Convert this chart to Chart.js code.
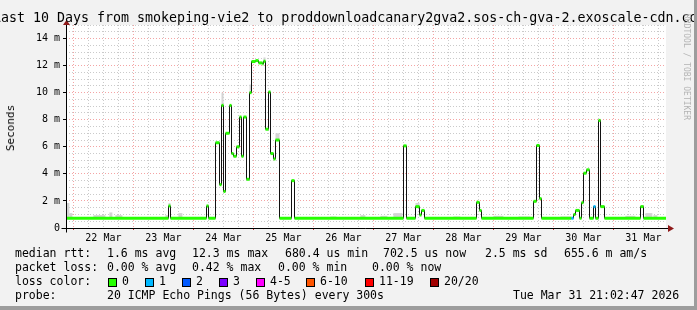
<!DOCTYPE html>
<html>
<head>
<meta charset="utf-8">
<script src="https://cdn.jsdelivr.net/npm/chart.js@4/dist/chart.umd.min.js"></script>
<style>
  html, body { margin: 0; padding: 0; }
  body { width: 697px; height: 310px; overflow: hidden; }
  #frame {
    position: relative; width: 697px; height: 310px; box-sizing: border-box;
    background: #f2f2f2; border-right: 3px solid #9d9d9d; border-bottom: 4px solid #9d9d9d;
    font-family: 'DejaVu Sans Mono', monospace; color: #000; overflow: hidden;
  }
  canvas { position: absolute; left: 0; top: 0; }
  .t { position: absolute; white-space: pre; font-size: 11.5px; line-height: 14px; }
  .sq { position: absolute; top: 278px; width: 7px; height: 7px; border: 1px solid #000; }
</style>
</head>
<body>
<div id="frame">
  <canvas id="chart" width="697" height="310"></canvas>

  <div class="t" style="left:-7px;top:10px;font-size:13.3px;line-height:16px">Last 10 Days from smokeping-vie2 to proddownloadcanary2gva2.sos-ch-gva-2.exoscale-cdn.com</div>
  <div class="t" style="left:11px;top:128px;font-size:11px;transform:translate(-50%,-50%) rotate(-90deg)">Seconds</div>
  <div class="t" style="left:681px;top:14px;font-size:8px;line-height:10px;color:#b4b4b4;writing-mode:vertical-rl">RRDTOOL / TOBI OETIKER</div>

  <div class="t" style="left:15px;top:246px">median rtt:</div>
  <div class="t" style="left:107px;top:246px">1.6 ms avg</div>
  <div class="t" style="left:192px;top:246px">12.3 ms max</div>
  <div class="t" style="left:285px;top:246px">680.4 us min</div>
  <div class="t" style="left:383px;top:246px">702.5 us now</div>
  <div class="t" style="left:485px;top:246px">2.5 ms sd</div>
  <div class="t" style="left:564px;top:246px">655.6 m am/s</div>

  <div class="t" style="left:15px;top:260px">packet loss:</div>
  <div class="t" style="left:107px;top:260px">0.00 % avg</div>
  <div class="t" style="left:192px;top:260px">0.42 % max</div>
  <div class="t" style="left:278px;top:260px">0.00 % min</div>
  <div class="t" style="left:372px;top:260px">0.00 % now</div>

  <div class="t" style="left:15px;top:274px">loss color:</div>
  <div id="lossLegend"></div>

  <div class="t" style="left:15px;top:288px">probe:</div>
  <div class="t" style="left:107px;top:288px">20 ICMP Echo Pings (56 Bytes) every 300s</div>
  <div class="t" style="left:513px;top:288px">Tue Mar 31 21:02:47 2026</div>
</div>
<script>
// time axis: hours since 22 Mar 00:00, one pixel column = 24 min
const startHour = -2.95;
const endHour = 237.05;
const dayLabels = ['22 Mar', '23 Mar', '24 Mar', '25 Mar', '26 Mar', '27 Mar', '28 Mar', '29 Mar', '30 Mar', '31 Mar'];
const yLabels = ['0', '2 m', '4 m', '6 m', '8 m', '10 m', '12 m', '14 m'];

// median rtt, step segments (start hour, ms, loss class)
const medStart = [-2.95, 38.05, 38.85, 53.25, 54.05, 56.85, 58.45, 59.25, 60.05, 60.85,
  62.45, 63.25, 64.05, 65.25, 66.45, 67.25, 68.05, 69.25, 70.45, 71.25,
  72.85, 74.05, 75.65, 76.05, 76.85, 78.05, 78.85, 80.05, 80.85, 82.45,
  87.25, 88.45, 132.05, 133.25, 136.85, 138.45, 139.25, 140.45, 161.25, 162.45,
  163.25, 184.05, 185.25, 186.45, 187.25, 199.25, 200.05, 200.85, 202.45, 203.25,
  204.05, 205.25, 206.45, 208.05, 208.85, 210.05, 210.85, 212.45, 226.85, 228.05];
const medValue = [0.72, 1.63, 0.72, 1.63, 0.72, 6.3, 3.2, 9.06, 2.7, 7.0,
  9.06, 5.5, 5.3, 6.0, 8.2, 5.3, 8.2, 3.6, 10.0, 12.3,
  12.37, 12.2, 12.12, 12.32, 7.3, 10.05, 5.5, 5.1, 6.5, 0.72,
  3.5, 0.72, 6.07, 0.72, 1.58, 0.96, 1.3, 0.72, 1.9, 1.3,
  0.72, 1.97, 6.1, 2.17, 0.72, 0.72, 1.0, 1.3, 0.72, 1.87,
  4.05, 4.3, 0.72, 1.58, 0.72, 7.95, 1.58, 0.72, 1.58, 0.72];
const medLoss = [0, 0, 0, 0, 0, 0, 0, 0, 0, 0,
  0, 0, 0, 0, 0, 0, 0, 0, 0, 0,
  0, 0, 0, 0, 0, 0, 0, 0, 0, 0,
  0, 0, 0, 0, 0, 0, 0, 0, 0, 0,
  0, 0, 0, 0, 0, 1, 0, 0, 0, 0,
  0, 0, 0, 1, 0, 0, 0, 0, 0, 0];

// smoke (spread of the 20 pings): from hour, to hour, top in ms
const smokeFrom = [-2.95, -1.6, 8.0, 14.4, 16.8, 36.8, 38.05, 42.0, 59.25, 70.45, 76.05, 80.85,
  102.8, 114.8, 122.8, 128.0, 136.85, 152.0, 168.0, 178.0, 194.8, 220.8, 228.8, 232.0];
const smokeTo = [-1.6, -0.4, 12.8, 15.6, 19.6, 38.05, 38.85, 43.6, 60.05, 71.25, 76.85, 82.45,
  105.2, 116.8, 125.6, 131.6, 138.45, 154.8, 172.0, 182.8, 199.25, 224.8, 231.6, 233.6];
const smokeTop = [1.85, 1.1, 0.95, 1.15, 0.95, 0.95, 1.85, 1.1, 10.0, 10.6, 12.6, 7.0,
  0.85, 0.95, 0.9, 1.1, 1.85, 0.85, 0.9, 0.85, 0.85, 0.9, 1.1, 0.95];

const lossNames = ['0', '1', '2', '3', '4-5', '6-10', '11-19', '20/20'];
const lossColors = ['#26ff00', '#00b8ff', '#0059ff', '#7a00ff', '#ff00ff', '#ff5500', '#ff0000', '#a10000'];

// legend squares
const sqLeft = [108, 145, 182, 219, 256, 306, 365, 430];
const lbLeft = [122, 159, 196, 233, 270, 320, 379, 444];
const lossLegend = document.getElementById('lossLegend');
lossNames.forEach((name, i) => {
  const sq = document.createElement('div');
  sq.className = 'sq';
  sq.style.left = sqLeft[i] + 'px';
  sq.style.background = lossColors[i];
  lossLegend.appendChild(sq);
  const lb = document.createElement('div');
  lb.className = 't';
  lb.style.left = lbLeft[i] + 'px';
  lb.style.top = '274px';
  lb.textContent = name;
  lossLegend.appendChild(lb);
});

function medAt(h) {
  let i = 0;
  while (i + 1 < medStart.length && medStart[i + 1] <= h) i++;
  return medValue[i];
}
function smokeAt(h) {
  for (let i = 0; i < smokeFrom.length; i++) {
    if (h >= smokeFrom[i] && h < smokeTo[i]) return smokeTop[i];
  }
  return 0;
}

const breaks = [...new Set([...medStart, ...smokeFrom, ...smokeTo, endHour])].sort((a, b) => a - b);
const medianPts = medStart.map((h, i) => ({ x: h, y: medValue[i] }));
medianPts.push({ x: endHour, y: medValue[medValue.length - 1] });

// loss coloured bands: only the flat parts of the median
const bandPts = [];
const bandLoss = [];
medStart.forEach((h0, i) => {
  const h1 = i + 1 < medStart.length ? medStart[i + 1] : endHour;
  bandPts.push({ x: h0, y: medValue[i] }, { x: h1, y: medValue[i] }, { x: h1, y: null });
  bandLoss.push(medLoss[i], medLoss[i], medLoss[i]);
});

const xTickHours = [];
dayLabels.forEach((d, i) => { for (let q = 0; q < 4; q++) xTickHours.push(i * 24 + q * 6); });
const yTickValues = [];
for (let v = 0; v <= 15; v += 0.5) yTickValues.push(v);

const majorGrid = 'rgba(235,90,90,0.55)';
const minorGrid = 'rgba(150,150,150,0.5)';

const frame = {
  id: 'frame',
  beforeDraw(chart) {
    const { ctx, chartArea: a } = chart;
    ctx.save();
    ctx.fillStyle = '#ffffff';
    ctx.fillRect(a.left, a.top, a.right - a.left, a.bottom - a.top);
    ctx.restore();
  },
  beforeDatasetsDraw(chart) {
    // smoke between median and the slowest pings
    const { ctx, scales: { x, y } } = chart;
    ctx.save();
    ctx.fillStyle = '#d4d4d4';
    for (let k = 0; k + 1 < breaks.length; k++) {
      const lo = medAt(breaks[k]);
      const hi = smokeAt(breaks[k]);
      if (hi <= lo) continue;
      const x0 = x.getPixelForValue(breaks[k]);
      const x1 = x.getPixelForValue(breaks[k + 1]);
      const y0 = y.getPixelForValue(lo);
      const y1 = y.getPixelForValue(hi);
      ctx.fillRect(x0, y1, x1 - x0, y0 - y1);
    }
    ctx.restore();
  },
  afterDatasetsDraw(chart) {
    const { ctx, chartArea: a } = chart;
    const y0 = Math.round(a.bottom) + 0.5;
    const x0 = Math.round(a.left) + 0.5;
    ctx.save();
    ctx.strokeStyle = '#000';
    ctx.lineWidth = 1;
    ctx.beginPath();
    ctx.moveTo(x0 - 5, y0); ctx.lineTo(a.right + 3, y0);
    ctx.moveTo(x0, y0 + 4); ctx.lineTo(x0, a.top - 1);
    ctx.stroke();
    ctx.fillStyle = '#8e1a1a';
    ctx.beginPath();
    ctx.moveTo(a.right + 2, y0 - 3.5); ctx.lineTo(a.right + 8, y0); ctx.lineTo(a.right + 2, y0 + 3.5);
    ctx.closePath(); ctx.fill();
    ctx.beginPath();
    ctx.moveTo(x0 - 3.5, a.top); ctx.lineTo(x0, a.top - 5); ctx.lineTo(x0 + 3.5, a.top);
    ctx.closePath(); ctx.fill();
    ctx.restore();
  }
};

new Chart(document.getElementById('chart'), {
  type: 'line',
  data: {
    datasets: [
      {
        label: 'median',
        data: medianPts,
        stepped: 'before',
        borderWidth: 1,
        borderColor: '#111111',
        fill: false,
        order: 2
      },
      {
        label: 'loss',
        data: bandPts,
        borderWidth: 3,
        borderCapStyle: 'butt',
        spanGaps: false,
        fill: false,
        borderColor: lossColors[0],
        segment: { borderColor: c => lossColors[bandLoss[c.p0DataIndex]] },
        order: 1
      }
    ]
  },
  options: {
    responsive: false,
    animation: false,
    devicePixelRatio: 1,
    layout: { padding: { left: 0, top: 25, right: 31, bottom: 62 } },
    elements: { point: { radius: 0, hoverRadius: 0 }, line: { tension: 0 } },
    plugins: { legend: { display: false }, tooltip: { enabled: false } },
    scales: {
      x: {
        type: 'linear',
        min: startHour,
        max: endHour,
        afterFit(s) { s.height = 20; },
        afterBuildTicks(s) { s.ticks = xTickHours.map(v => ({ value: v })); },
        grid: {
          color: c => (c.tick && c.tick.value % 24 === 0) ? majorGrid : minorGrid,
          tickColor: c => (c.tick && c.tick.value % 24 === 0) ? '#d03030' : 'rgba(0,0,0,0)',
          tickLength: 2,
          lineWidth: 1
        },
        border: { display: false, dash: [1, 2] },
        ticks: {
          autoSkip: false,
          maxRotation: 0,
          padding: 2,
          color: '#000',
          font: { family: 'DejaVu Sans Mono', size: 10 },
          callback: v => (v % 24 === 12) ? dayLabels[(v - 12) / 24] : ''
        }
      },
      y: {
        min: 0,
        max: 15,
        afterFit(s) { s.width = 66; },
        afterBuildTicks(s) { s.ticks = yTickValues.map(v => ({ value: v })); },
        grid: {
          color: c => (c.tick && c.tick.value % 2 === 0) ? majorGrid : minorGrid,
          tickColor: c => (c.tick && c.tick.value % 2 === 0) ? '#000' : 'rgba(0,0,0,0)',
          tickLength: 3,
          lineWidth: 1
        },
        border: { display: false, dash: [1, 2] },
        ticks: {
          autoSkip: false,
          padding: 3,
          color: '#000',
          font: { family: 'DejaVu Sans Mono', size: 10 },
          callback: v => (v % 2 === 0 && v / 2 < yLabels.length) ? yLabels[v / 2] : ''
        }
      }
    }
  },
  plugins: [frame]
});
</script>
</body>
</html>
